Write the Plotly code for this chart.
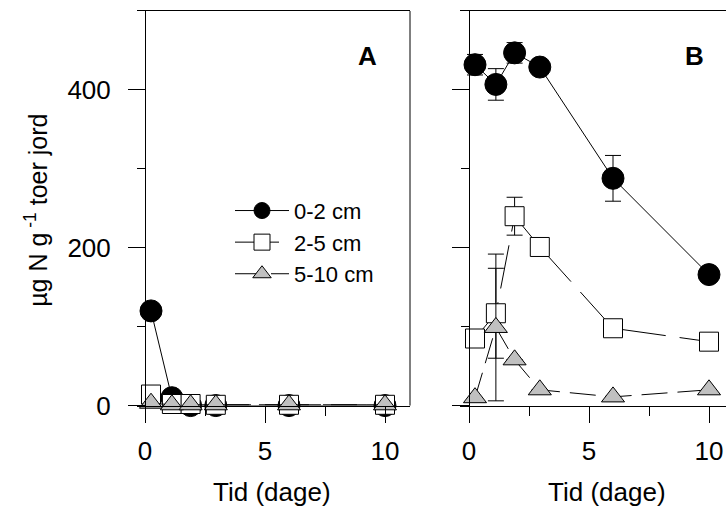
import plotly.graph_objects as go

# ---- data ----
days = [0.25, 1.12, 1.9, 2.95, 6.0, 10.0]
series_names = ["0-2 cm", "2-5 cm", "5-10 cm"]

A_0_2 = [120, 10, 0, 0, 0, 0]
A_2_5 = [14, 2, 2, 1, 1, 1]
A_5_10 = [3, 1, 1, 1, 1, 1]

B_0_2 = [432, 407, 447, 429, 288, 166]
B_0_2_err = [13, 20, 13, 0, 29, 0]
B_2_5 = [85, 117, 240, 201, 98, 81]
B_2_5_err = [0, 57, 24, 0, 0, 0]
B_5_10 = [10, 99, 58, 20, 11, 20]
B_5_10_err = [0, 93, 0, 0, 0, 0]

FONT = "Liberation Sans, Arial, sans-serif"
W, H = 726, 528

styles = [
    dict(symbol="circle", size=22, color="black", line=dict(color="black", width=1)),
    dict(symbol="square", size=19, color="white", line=dict(color="black", width=1)),
    dict(symbol="triangle-up", size=20, color="#c0c0c0", line=dict(color="black", width=1)),
]
dashes = ["solid", "44px,14px", "26px,10px"]

fig = go.Figure()

panelA = [A_0_2, A_2_5, A_5_10]
panelB = [(B_0_2, B_0_2_err), (B_2_5, B_2_5_err), (B_5_10, B_5_10_err)]

for i, vals in enumerate(panelA):
    fig.add_trace(go.Scatter(
        x=days, y=vals, mode="lines+markers", name=series_names[i],
        line=dict(color="black", width=1, dash=dashes[i]),
        marker=styles[i], xaxis="x", yaxis="y", showlegend=True,
        cliponaxis=False, legendgroup=series_names[i]))

for i, (vals, err) in enumerate(panelB):
    fig.add_trace(go.Scatter(
        x=days, y=vals, mode="lines+markers", name=series_names[i],
        line=dict(color="black", width=1, dash=dashes[i]),
        marker=styles[i], xaxis="x2", yaxis="y2", showlegend=False,
        error_y=dict(type="data", array=err, visible=True, color="black",
                     thickness=1, width=8),
        cliponaxis=False, legendgroup=series_names[i]))

# pixel geometry (reference pixels)
px_per_day = 24.0
A_left, A_right, A_zero = 137, 410, 145
B_left, B_right, B_zero = 460, 726, 469
top_px, bot_px = 11, 404
REF_H = 511

def py(p):
    # reference pixel row -> paper fraction
    return 1 - p / REF_H

def xr(left, right, zero):
    return [(left - zero) / px_per_day, (right - zero) / px_per_day]

ydom = [py(bot_px), py(top_px)]

xcommon = dict(showline=True, linecolor="black", linewidth=1, mirror=True,
               ticks="outside", ticklen=16, tickwidth=1, tickcolor="black",
               tickvals=[0, 5, 10], showgrid=False, zeroline=False,
               tickfont=dict(family=FONT, size=26, color="black"),
               minor=dict(tickvals=[2.5, 7.5], ticks="outside", ticklen=9,
                          tickwidth=1, tickcolor="black", showgrid=False),
               ticklabelstandoff=6)
ycommon = dict(showline=True, linecolor="black", linewidth=1,
               ticks="outside", ticklen=17, tickwidth=1, tickcolor="black",
               tickvals=[0, 200, 400], range=[0, 500], domain=ydom,
               showgrid=False, zeroline=False,
               tickfont=dict(family=FONT, size=26, color="black"),
               minor=dict(tickvals=[100, 300], ticks="outside", ticklen=8,
                          tickwidth=1, tickcolor="black", showgrid=False),
               anchor="free", ticklabelstandoff=12)

fig.update_layout(
    width=W, height=H, margin=dict(l=0, r=0, t=0, b=0), autosize=False,
    paper_bgcolor="white", plot_bgcolor="white",
    font=dict(family=FONT, color="black"),
    xaxis=dict(xcommon, domain=[A_left / W, A_right / W],
               range=xr(A_left, A_right, A_zero), anchor="y"),
    yaxis=dict(ycommon, position=A_zero / W),
    xaxis2=dict(xcommon, domain=[B_left / W, 1.0],
                range=xr(B_left, B_right, B_zero), anchor="y2"),
    yaxis2=dict(ycommon, position=B_zero / W, showticklabels=False),
    showlegend=True,
    legend=dict(x=230 / W, y=py(189), xanchor="left", yanchor="top",
                bgcolor="rgba(0,0,0,0)", font=dict(family=FONT, size=22, color="black"),
                itemwidth=54, tracegroupgap=0, itemsizing="trace"),
    shapes=[dict(type="line", xref="x domain", yref="y domain",
                 x0=1, x1=1, y0=0, y1=1, line=dict(color="black", width=1))],
    annotations=[
        dict(text="<b>A</b>", xref="x", yref="y", x=9.25, y=443, showarrow=False,
             font=dict(family=FONT, size=26, color="black")),
        dict(text="<b>B</b>", xref="x2", yref="y2", x=9.4, y=443, showarrow=False,
             font=dict(family=FONT, size=26, color="black")),
        dict(text="Tid (dage)", xref="x", yref="paper", x=5.31, y=py(490),
             xanchor="center", yanchor="middle",
             showarrow=False, font=dict(family=FONT, size=26, color="black")),
        dict(text="Tid (dage)", xref="x2", yref="paper", x=5.77, y=py(490),
             xanchor="center", yanchor="middle",
             showarrow=False, font=dict(family=FONT, size=26, color="black")),
        dict(text="µg N g<sup> -1</sup> toer jord", xref="paper", yref="paper",
             x=36 / W, y=py(210), textangle=-90, showarrow=False,
             xanchor="center", yanchor="middle",
             font=dict(family=FONT, size=25, color="black")),
    ],
)

fig.write_html("out.html", config={"responsive": False})
